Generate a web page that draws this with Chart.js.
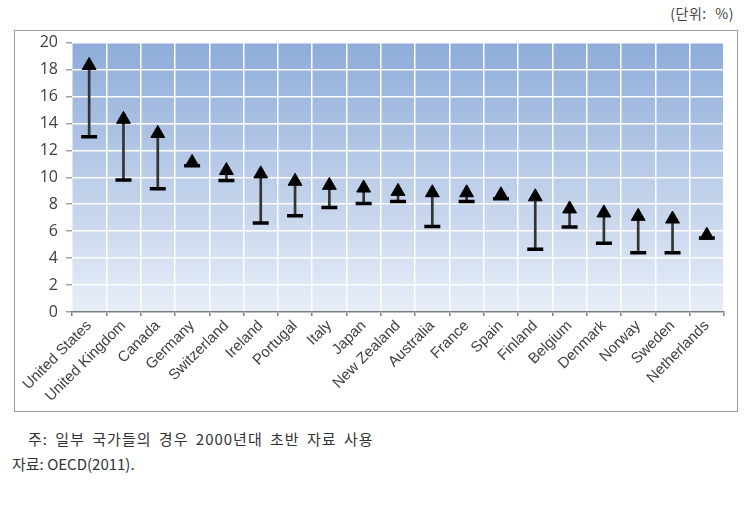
<!DOCTYPE html>
<html>
<head>
<meta charset="utf-8">
<script src="https://cdn.jsdelivr.net/npm/chart.js@4/dist/chart.umd.min.js"></script>
<style>
  body { margin: 0; width: 751px; height: 506px; background: #fff; position: relative; font-family: "Noto Sans CJK KR", sans-serif; color: #333; }
  .unit { position: absolute; right: 17px; top: 3px; font-size: 14px; word-spacing: 5px; letter-spacing: 0.5px; color: #444; }
  .box { position: absolute; left: 14px; top: 30px; width: 722px; height: 380px; border: 1px solid #9a9a9a; }
  .note1 { position: absolute; left: 28px; top: 428px; font-size: 15px; letter-spacing: 1px; word-spacing: 3px; }
  .note2 { position: absolute; left: 12px; top: 453px; font-size: 15px; }
</style>
</head>
<body>
<div class="unit">(단위: %)</div>
<div class="box"><canvas id="c" width="722" height="380"></canvas></div>
<div class="note1">주: 일부 국가들의 경우 2000년대 초반 자료 사용</div>
<div class="note2">자료: OECD(2011).</div>
<script>
// Data
const countries = ["United States", "United Kingdom", "Canada", "Germany", "Switzerland", "Ireland", "Portugal", "Italy", "Japan", "New Zealand", "Australia", "France", "Spain", "Finland", "Belgium", "Denmark", "Norway", "Sweden", "Netherlands"];
const highValues = [18.3, 14.3, 13.25, 11.1, 10.5, 10.25, 9.7, 9.4, 9.2, 8.95, 8.85, 8.85, 8.7, 8.55, 7.65, 7.35, 7.1, 6.9, 5.7];
const lowValues = [13.0, 9.8, 9.15, 10.85, 9.75, 6.6, 7.15, 7.75, 8.05, 8.2, 6.35, 8.2, 8.4, 4.65, 6.3, 5.1, 4.4, 4.4, 5.5];
const yTicks = [0, 2, 4, 6, 8, 10, 12, 14, 16, 18, 20];

const plotBg = {
    id: "plotBg",
    beforeDraw(chart) {
        const { ctx, chartArea: a } = chart;
        const g = ctx.createLinearGradient(0, a.top, 0, a.bottom);
        g.addColorStop(0, "#8eacd9");
        g.addColorStop(1, "#e8eef8");
        ctx.save();
        ctx.fillStyle = g;
        ctx.fillRect(a.left, a.top, a.right - a.left, a.bottom - a.top);
        ctx.restore();
    }
};

new Chart(document.getElementById("c"), {
    type: "bar",
    data: {
        labels: countries,
        datasets: [
            { type: "line", data: highValues, showLine: false, pointStyle: "triangle", pointRadius: 8, pointBackgroundColor: "#000", pointBorderColor: "#000", pointBorderWidth: 1, order: 0 },
            { type: "line", data: lowValues, showLine: false, pointStyle: "line", pointRadius: 8, pointBorderColor: "#000", pointBorderWidth: 3.5, order: 1 },
            { data: lowValues.map((v, i) => [v, highValues[i]]), backgroundColor: "#333", barThickness: 2, order: 2 }
        ]
    },
    options: {
        responsive: false,
        animation: false,
        layout: { padding: { left: 0, right: 13, top: 9, bottom: 0 } },
        plugins: { legend: { display: false }, tooltip: { enabled: false } },
        scales: {
            x: {
                offset: true,
                grid: { offset: true, color: "#ffffff", lineWidth: 1.5, tickColor: "#808080", tickLength: 4 },
                border: { display: true, color: "#7f7f7f", width: 1.5 },
                ticks: { maxRotation: 45, minRotation: 45, color: "#404040", font: { family: "Liberation Sans", size: 15 }, padding: 1 },
                afterFit(s) { s.height = 99; }
            },
            y: {
                min: 0, max: 20,
                afterBuildTicks(s) { s.ticks = yTicks.map(v => ({ value: v })); },
                grid: { color: "#ffffff", lineWidth: 1.5, tickColor: "#a0a0a0", tickLength: 6 },
                border: { display: false },
                ticks: { color: "#404040", font: { family: "Open Sans", size: 16 }, padding: 8 },
                afterFit(s) { s.width = 57; s.paddingTop = 0; s.paddingBottom = 0; }
            }
        }
    },
    plugins: [plotBg]
});
</script>
</body>
</html>
